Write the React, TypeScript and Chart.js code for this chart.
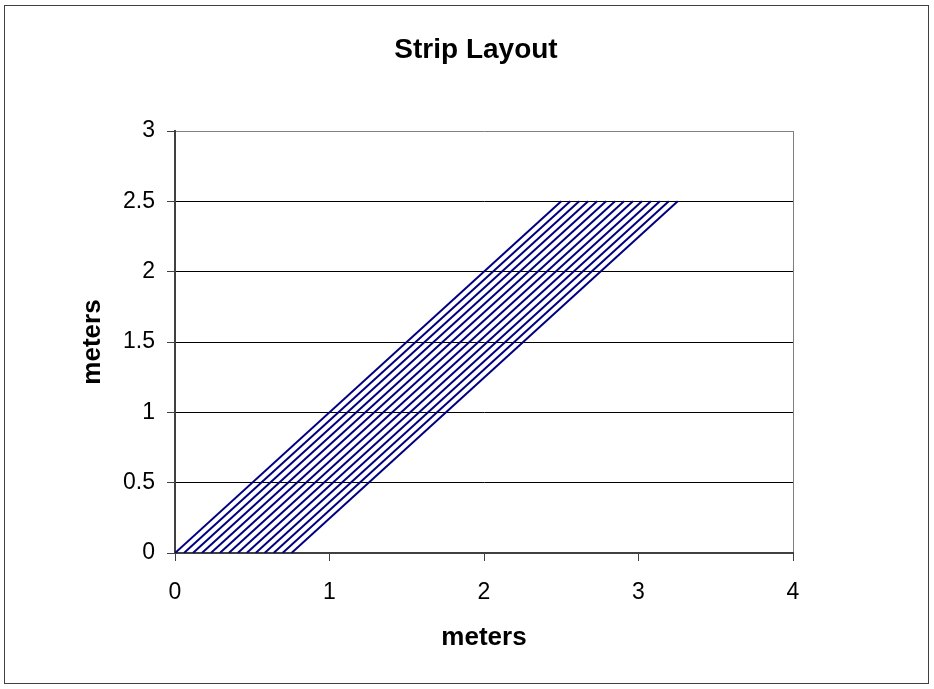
import React, { useEffect, useRef } from "react";
import { Chart, registerables } from "chart.js";

Chart.register(...registerables);

// Strip start offsets along the x axis (meters); each strip rises at 45° to y = 2.5
const stripOffsets = [0, 0.058, 0.116, 0.174, 0.232, 0.29, 0.348, 0.406, 0.464, 0.522, 0.58, 0.638, 0.696, 0.754];
const stripRise = 2.5;
const xTicks = [0, 1, 2, 3, 4];
const yTicks = [0, 0.5, 1, 1.5, 2, 2.5, 3];
const chartTitle = "Strip Layout";
const xTitle = "meters";
const yTitle = "meters";

const FONT = "'Liberation Sans', Arial, sans-serif";

const framePlugin = {
  id: "frame",
  afterDraw(chart: any) {
    const { ctx, chartArea } = chart;
    ctx.save();
    // outer chart border
    ctx.strokeStyle = "#404040";
    ctx.lineWidth = 1;
    ctx.strokeRect(4.5, 5.5, 924, 678);
    // chart title
    ctx.fillStyle = "#000";
    ctx.font = `bold 28px ${FONT}`;
    ctx.textAlign = "center";
    ctx.textBaseline = "alphabetic";
    ctx.fillText(chartTitle, (chartArea.left + chartArea.right) / 2 - 8, 58);
    ctx.restore();
  },
};

export default function App() {
  const ref = useRef<HTMLCanvasElement>(null);
  useEffect(() => {
    const datasets = stripOffsets.map((o, i) => ({
      label: `strip ${i + 1}`,
      data: [
        { x: o, y: 0 },
        { x: o + stripRise, y: stripRise },
      ],
      borderColor: "#000080",
      backgroundColor: "#000080",
      borderWidth: 2,
      pointRadius: 0,
      showLine: true,
      fill: false,
    }));
    const chart = new Chart(ref.current!, {
      type: "scatter",
      data: { datasets },
      plugins: [framePlugin],
      options: {
        responsive: false,
        animation: false,
        layout: { padding: { top: 131, right: 141, bottom: 0, left: 0 } },
        plugins: {
          legend: { display: false },
          tooltip: { enabled: false },
          title: { display: false },
        },
        scales: {
          x: {
            type: "linear",
            min: 0,
            max: 4,
            afterBuildTicks: (s: any) => {
              s.ticks = xTicks.map((v) => ({ value: v }));
            },
            afterFit: (s: any) => {
              s.height = 136;
            },
            ticks: {
              color: "#000",
              font: { family: FONT, size: 23 },
              padding: 18,
              maxRotation: 0,
              callback: (v: any) => String(v),
            },
            grid: {
              drawOnChartArea: true,
              color: (c: any) => (c.tick && c.tick.value === 4 ? "#808080" : "rgba(0,0,0,0)"),
              tickColor: "#404040",
              tickLength: 8,
              lineWidth: 1,
            },
            border: { color: "#404040", width: 2 },
            title: {
              display: true,
              text: xTitle,
              color: "#000",
              font: { family: FONT, size: 26, weight: "bold" },
              padding: { top: 0, bottom: 36 },
            },
          },
          y: {
            type: "linear",
            min: 0,
            max: 3,
            afterBuildTicks: (s: any) => {
              s.ticks = yTicks.map((v) => ({ value: v }));
            },
            afterFit: (s: any) => {
              s.width = 175;
            },
            ticks: {
              color: "#000",
              font: { family: FONT, size: 23 },
              padding: 12,
              callback: (v: any) => String(v),
            },
            grid: {
              color: (c: any) => (c.tick && c.tick.value === 3 ? "#808080" : "#000"),
              tickColor: "#404040",
              tickLength: 8,
              lineWidth: 1,
            },
            border: { color: "#404040", width: 2 },
            title: {
              display: true,
              text: yTitle,
              color: "#000",
              font: { family: FONT, size: 26, weight: "bold" },
              padding: { top: 77, bottom: 0 },
            },
          },
        },
      },
    });
    return () => chart.destroy();
  }, []);
  return (
    <div style={{ position: "absolute", left: 0, top: 0, width: 934, height: 689, background: "#fff" }}>
      <canvas ref={ref} width={934} height={689} />
    </div>
  );
}
